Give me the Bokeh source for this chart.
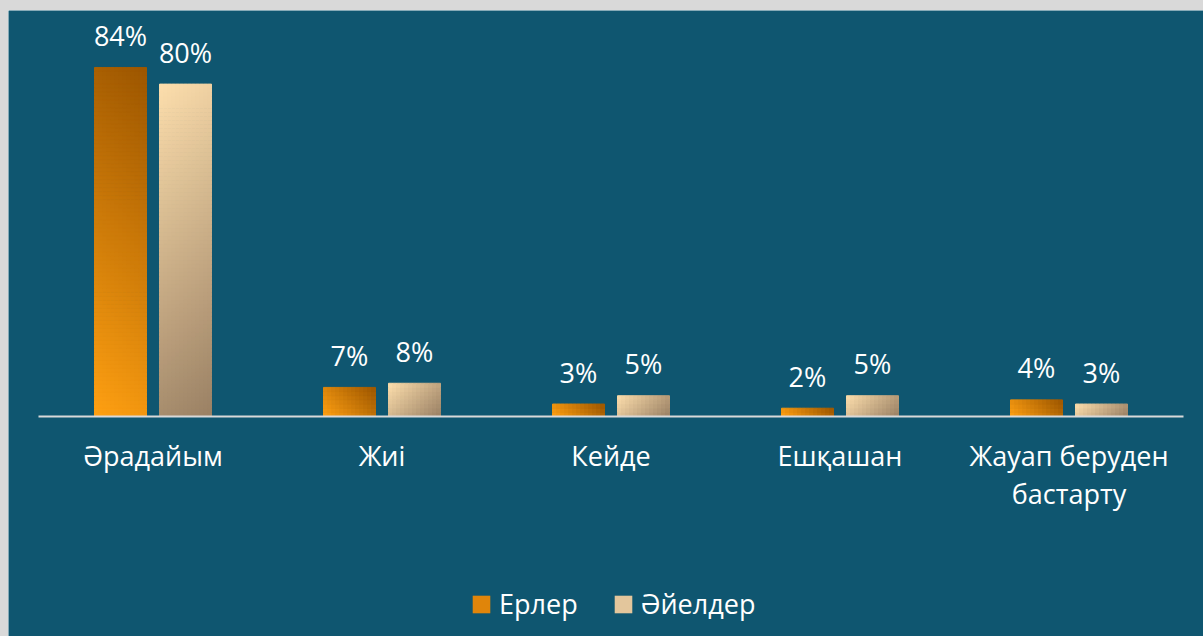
from bokeh.plotting import figure
from bokeh.models import ColumnDataSource, Legend, LegendItem, Div
from bokeh.layouts import column, row
from bokeh.core.properties import value
from bokeh.embed import file_html
from bokeh.resources import INLINE

# ---------------- data ----------------
categories = ["Әрадайым", "Жиі", "Кейде", "Ешқашан", "Жауап беруден\nбастарту"]
series_names = ["Ерлер", "Әйелдер"]
men = [84, 7, 3, 2, 4]
women = [80, 8, 5, 5, 3]

# ---------------- style ----------------
BG = "#0F5670"
EDGE = "#D9D9D9"
FONT = "Open Sans"
FS = "27px"
MEN_LIGHT, MEN_DARK = (255, 160, 18), (156, 86, 0)
WOMEN_LIGHT, WOMEN_DARK = (252, 222, 172), (154, 128, 100)
MEN_SOLID, WOMEN_SOLID = "#E0850A", "#E3C69C"

FIG_W, FIG_H = 1195, 626
PAD_L, PAD_R = 30, 20        # px between figure edge and category band
BASE_FROM_TOP = 406          # px from top of figure to the zero line
PX_Y = 4.155                 # px per percent
PX_X = (FIG_W - PAD_L - PAD_R) / len(categories)
BAR_W = 52 / PX_X
OFF = 32.5 / PX_X
X_START = -0.5 - PAD_L / PX_X
X_END = len(categories) - 0.5 + PAD_R / PX_X
Y_START = -(FIG_H - BASE_FROM_TOP) / PX_Y
Y_END = BASE_FROM_TOP / PX_Y


def lerp(c0, c1, t):
    r, g, b = (int(round(a + (b_ - a) * t)) for a, b_ in zip(c0, c1))
    return "#%02x%02x%02x" % (r, g, b)


def gradient_cells(xc, h, c_light, c_dark, top_light):
    w_px = BAR_W * PX_X
    h_px = h * PX_Y
    nx = 13
    ny = max(2, int(round(h_px / 4)))
    L, R, B, T, C = [], [], [], [], []
    for i in range(nx):
        u = (i + 0.5) / nx
        for j in range(ny):
            v = (j + 0.5) / ny
            vv = (1 - v) if top_light else v
            t = (u * w_px + vv * h_px) / (w_px + h_px)
            L.append(xc - BAR_W / 2 + i * BAR_W / nx)
            R.append(xc - BAR_W / 2 + (i + 1) * BAR_W / nx)
            B.append(j * h / ny)
            T.append((j + 1) * h / ny)
            C.append(lerp(c_light, c_dark, t))
    return L, R, B, T, C


cells = {"left": [], "right": [], "bottom": [], "top": [], "color": []}
for k in range(len(categories)):
    for xc, h, cl, cd, tl in [
        (k - OFF, men[k], MEN_LIGHT, MEN_DARK, False),
        (k + OFF, women[k], WOMEN_LIGHT, WOMEN_DARK, True),
    ]:
        L, R, B, T, C = gradient_cells(xc, h, cl, cd, tl)
        cells["left"] += L
        cells["right"] += R
        cells["bottom"] += B
        cells["top"] += T
        cells["color"] += C

fig = figure(
    width=FIG_W, height=FIG_H,
    x_range=(X_START, X_END), y_range=(Y_START, Y_END),
    min_border=0,
    x_axis_location=None, y_axis_location=None,
    background_fill_color=BG, border_fill_color=BG, outline_line_color=None,
    toolbar_location=None, output_backend="svg",
)
fig.grid.visible = False

fig.quad(left="left", right="right", bottom="bottom", top="top",
         fill_color="color", line_color="color", line_width=1,
         source=ColumnDataSource(cells))

# zero line across the category band
fig.segment(x0=[-0.5], y0=[0], x1=[len(categories) - 0.5], y1=[0],
            line_color=EDGE, line_width=2)

# category labels
fig.text(x=list(range(len(categories))), y=[0] * len(categories), text=categories,
         text_align="center", text_baseline="top", y_offset=20,
         text_color="white", text_font=value(FONT), text_font_size=FS,
         text_line_height=1.03)

# value labels
lab_x = [k - OFF for k in range(len(categories))] + [k + OFF for k in range(len(categories))]
lab_y = men + women
lab_t = [f"{v}%" for v in men + women]
fig.text(x=lab_x, y=lab_y, text=lab_t, text_align="center", text_baseline="alphabetic",
         y_offset=-32, text_color="white", text_font=value(FONT), text_font_size=FS)

# legend (swatch renderers carry no drawable data)
nan = float("nan")
r_men = fig.quad(left=[nan], right=[nan], bottom=[nan], top=[nan],
                 fill_color=MEN_SOLID, line_alpha=0)
r_women = fig.quad(left=[nan], right=[nan], bottom=[nan], top=[nan],
                   fill_color=WOMEN_SOLID, line_alpha=0)
legend = Legend(
    items=[LegendItem(label=series_names[0], renderers=[r_men]),
           LegendItem(label=series_names[1], renderers=[r_women])],
    orientation="horizontal", location=(462, 14),
    glyph_width=22, glyph_height=22, label_standoff=7, spacing=34,
    padding=0, margin=0, background_fill_alpha=0, border_line_alpha=0,
    label_text_color="white", label_text_font=FONT, label_text_font_size=FS,
)
fig.add_layout(legend, "center")

top_strip = Div(width=1203, height=10, margin=0, styles={"background-color": EDGE})
left_strip = Div(width=8, height=FIG_H, margin=0, styles={"background-color": EDGE})
p = column(row(left_strip, fig, spacing=0, margin=0), spacing=0, margin=0)
p.children.insert(0, top_strip)

open("out.html", "w").write(file_html(p, INLINE))
